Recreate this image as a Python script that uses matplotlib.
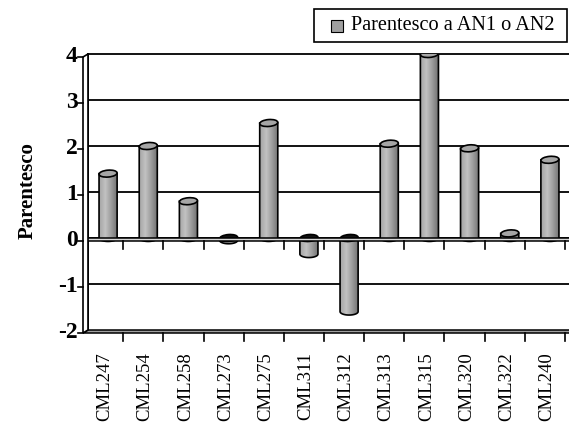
import numpy as np
import matplotlib
matplotlib.use("Agg")
import matplotlib.pyplot as plt
from matplotlib import transforms
from matplotlib.path import Path
from matplotlib.patches import PathPatch, Ellipse, Rectangle, Polygon
from matplotlib.colors import LinearSegmentedColormap

plt.rcParams['font.family'] = ['Liberation Serif', 'DejaVu Serif']

# --- data ---
lines = ['CML247', 'CML254', 'CML258', 'CML273', 'CML275', 'CML311',
         'CML312', 'CML313', 'CML315', 'CML320', 'CML322', 'CML240']
parentesco = [1.4, 2.0, 0.8, -0.05, 2.5, -0.35, -1.6, 2.05, 4.0, 1.95, 0.1, 1.7]
yticks = [-2, -1, 0, 1, 2, 3, 4]
series_name = 'Parentesco a AN1 o AN2'

W, H, DPI = 569, 426, 100
fig = plt.figure(figsize=(W / DPI, H / DPI), dpi=DPI)
fig.patch.set_facecolor('white')

# back wall of the 3D plot area, in pixels
left, right, top, bottom = 88, 570, 54, 330
ax = fig.add_axes([left / W, 1 - bottom / H, (right - left) / W, (bottom - top) / H])
ax.set_xlim(-0.5, len(lines) - 0.5)
ax.set_ylim(-2, 4)
ax.axis('off')

# the front plane sits a few pixels left and down of the back wall
dx, dy = -5, -3
front = transforms.offset_copy(ax.transData, fig=fig, x=dx, y=dy, units='dots')
xmax = len(lines)


def to_px(x, y, tr):
    return tr.transform((x, y))


# gridlines on the back wall
for yv in yticks[1:]:
    ax.plot([-0.5, xmax], [yv, yv], color='black', lw=1.3, zorder=1, clip_on=False)
ax.plot([-0.5, -0.5], [-2, 4], color='black', lw=1.3, zorder=1, clip_on=False)


# floor and zero-plane bands (drawn in display coordinates)
def band(y, face):
    pts = [to_px(-0.5, y, ax.transData), to_px(xmax, y, ax.transData),
           to_px(xmax, y, front), to_px(-0.5, y, front)]
    fig.add_artist(Polygon(pts, closed=True, transform=None, facecolor=face,
                           edgecolor='black', lw=1.1, zorder=2))


band(-2, '#a0a0a0')
band(0, '#d8d8d8')

# left side wall
wall = [to_px(-0.5, 4, ax.transData), to_px(-0.5, -2, ax.transData),
        to_px(-0.5, -2, front), to_px(-0.5, 4, front)]
fig.add_artist(Polygon(wall, closed=True, transform=None, facecolor='white',
                       edgecolor='black', lw=1.2, zorder=2))

# value axis ticks and labels on the front edge
for yv in yticks:
    x0, y0 = to_px(-0.5, yv, front)
    fig.add_artist(plt.Line2D([x0 - 5, x0], [y0, y0], transform=None,
                              color='black', lw=1.2, zorder=3))
    fig.text((x0 - 5) / W, y0 / H, str(yv), ha='right', va='center',
             fontsize=17, fontweight='bold', zorder=3)

# category ticks below the zero line and the floor
for k in range(1, len(lines) + 1):
    for yv in (0, -2):
        x0, y0 = to_px(k - 0.5, yv, front)
        fig.add_artist(plt.Line2D([x0, x0], [y0, y0 - 8], transform=None,
                                  color='black', lw=1.2, zorder=3))

# cylinder bars
shade = LinearSegmentedColormap.from_list(
    'cyl', ['#a4a4a4', '#c2c2c2', '#9a9a9a', '#6e6e6e'])
grad = np.linspace(0, 1, 64).reshape(1, -1)
bw, eh = 0.45, 0.15
t = np.linspace(np.pi, 2 * np.pi, 40)

for i, v in enumerate(parentesco):
    lo, hi = min(0, v), max(0, v)
    xl, xr = i - bw / 2, i + bw / 2
    arc = np.column_stack([i + bw / 2 * np.cos(t), lo + eh / 2 * np.sin(t)])
    verts = np.vstack([[xl, hi], [xl, lo], arc, [xr, lo], [xr, hi], [xl, hi]])
    body = PathPatch(Path(verts, closed=True), facecolor='none',
                     edgecolor='black', lw=1.2, zorder=6)
    ax.add_patch(body)
    img = ax.imshow(grad, cmap=shade, aspect='auto', zorder=5,
                    extent=[xl, xr, lo - eh / 2, hi], interpolation='bilinear')
    img.set_clip_path(body)
    cap = '#a6a6a6' if v > 0 else '#111111'
    ax.add_patch(Ellipse((i, hi), bw, eh, angle=4, facecolor=cap,
                         edgecolor='black', lw=1.2, zorder=7))

ax.set_xlim(-0.5, len(lines) - 0.5)
ax.set_ylim(-2, 4)

# category labels
lab_tr = transforms.offset_copy(ax.transData, fig=fig, x=-3, y=-22, units='dots')
for i, name in enumerate(lines):
    ax.text(i, -2, name, transform=lab_tr, rotation=90, ha='center', va='top',
            fontsize=13.5, clip_on=False)

fig.text(28 / W, 1 - 191 / H, 'Parentesco', rotation=90, ha='center',
         va='center', fontsize=15, fontweight='bold')

# legend box
fig.add_artist(Rectangle((314 / W, 1 - 42 / H), (567 - 314) / W, 33 / H,
                         transform=fig.transFigure, facecolor='white',
                         edgecolor='black', lw=1.2))
fig.add_artist(Rectangle((331 / W, 1 - 31.5 / H), 12 / W, 12 / H,
                         transform=fig.transFigure, facecolor='#a0a0a0',
                         edgecolor='black', lw=0.8))
fig.text(351 / W, 1 - 25.5 / H, series_name, ha='left', va='center', fontsize=14.6)

fig.savefig('out.png', dpi=DPI)
